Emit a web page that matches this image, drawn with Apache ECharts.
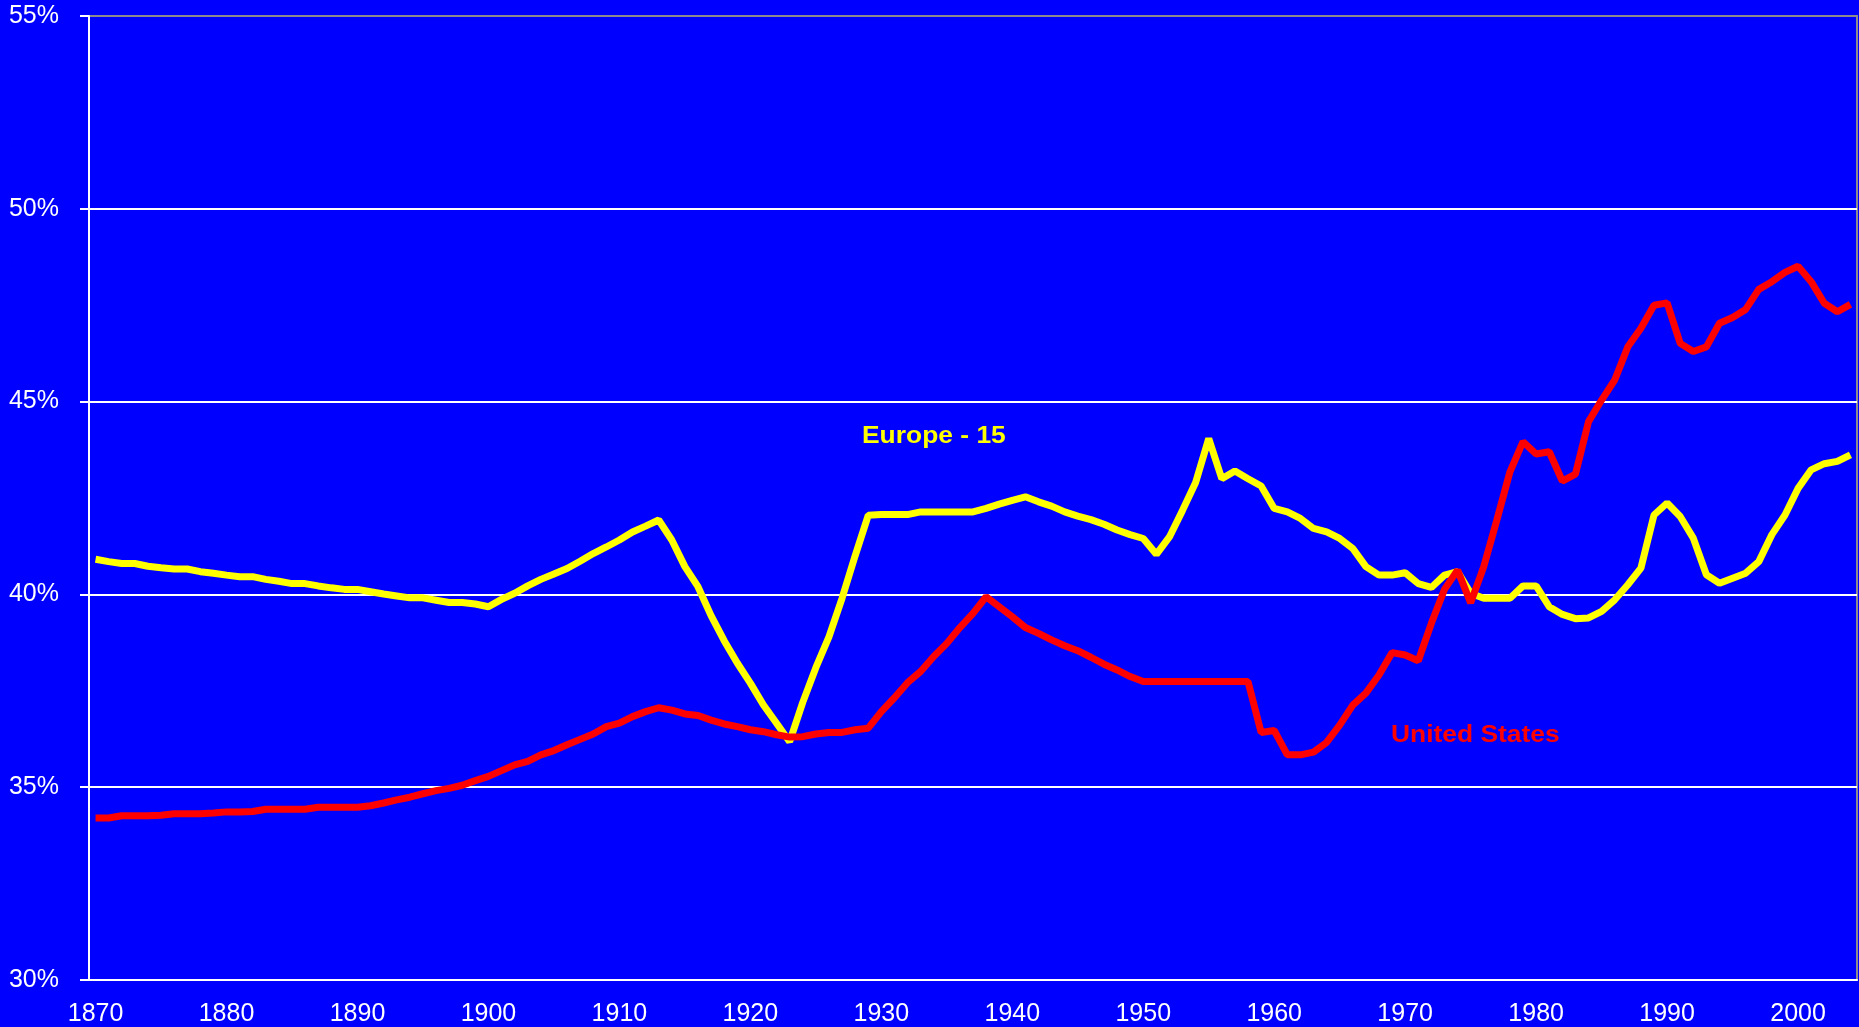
<!DOCTYPE html>
<html>
<head>
<meta charset="utf-8">
<title>Europe-15 vs United States</title>
<script src="https://cdn.jsdelivr.net/npm/echarts@6/dist/echarts.min.js"></script>
<style>
  html, body { margin: 0; padding: 0; background: #0000ff; }
  #chart { width: 1859px; height: 1027px; }
</style>
</head>
<body>
<div id="chart"></div>
<script>
const firstYear = 1870;
const lastYear = 2004;
const years = [];
for (let y = firstYear; y <= lastYear; y++) years.push(String(y));

// Europe - 15 (yellow), 1870..2004
const europe15 = [
  40.91, 40.85, 40.80, 40.80, 40.73, 40.69, 40.66, 40.66, 40.59, 40.55,
  40.50, 40.46, 40.46, 40.39, 40.34, 40.28, 40.28, 40.22, 40.17, 40.13,
  40.13, 40.07, 40.01, 39.96, 39.91, 39.91, 39.85, 39.79, 39.79, 39.75,
  39.68, 39.87, 40.03, 40.22, 40.39, 40.53, 40.67, 40.86, 41.06, 41.23,
  41.41, 41.62, 41.77, 41.93, 41.41, 40.72, 40.20, 39.45, 38.80, 38.22,
  37.70, 37.13, 36.66, 36.18, 37.20, 38.10, 38.90, 39.90, 41.00, 42.05,
  42.07, 42.07, 42.07, 42.14, 42.14, 42.14, 42.14, 42.14, 42.23, 42.34,
  42.44, 42.53, 42.40, 42.29, 42.14, 42.03, 41.94, 41.82, 41.67, 41.55,
  41.45, 41.04, 41.49, 42.18, 42.90, 44.04, 43.00, 43.20, 43.00, 42.81,
  42.23, 42.14, 41.97, 41.71, 41.62, 41.45, 41.19, 40.72, 40.50, 40.50,
  40.56, 40.28, 40.18, 40.50, 40.59, 40.03, 39.90, 39.90, 39.90, 40.22,
  40.22, 39.68, 39.48, 39.37, 39.39, 39.56, 39.86, 40.25, 40.68, 42.06,
  42.37, 42.02, 41.46, 40.51, 40.29, 40.42, 40.55, 40.85, 41.55, 42.06,
  42.75, 43.23, 43.39, 43.45, 43.62
];

// United States (red), 1870..2004
const unitedStates = [
  34.20, 34.20, 34.26, 34.26, 34.26, 34.27, 34.31, 34.31, 34.31, 34.33,
  34.36, 34.36, 34.37, 34.43, 34.43, 34.43, 34.43, 34.48, 34.48, 34.48,
  34.48, 34.52, 34.59, 34.67, 34.74, 34.83, 34.91, 34.97, 35.05, 35.17,
  35.28, 35.43, 35.58, 35.67, 35.84, 35.95, 36.10, 36.24, 36.38, 36.57,
  36.66, 36.83, 36.96, 37.06, 37.00, 36.90, 36.86, 36.74, 36.64, 36.57,
  36.49, 36.44, 36.36, 36.30, 36.31, 36.38, 36.42, 36.42, 36.49, 36.53,
  36.96, 37.32, 37.71, 38.00, 38.39, 38.73, 39.14, 39.51, 39.94, 39.68,
  39.42, 39.14, 38.99, 38.82, 38.67, 38.54, 38.37, 38.19, 38.04, 37.87,
  37.74, 37.74, 37.74, 37.74, 37.74, 37.74, 37.74, 37.74, 37.74, 36.42,
  36.47, 35.84, 35.84, 35.91, 36.16, 36.61, 37.13, 37.44, 37.91, 38.49,
  38.43, 38.28, 39.25, 40.13, 40.63, 39.78, 40.72, 41.93, 43.18, 43.96,
  43.64, 43.70, 42.94, 43.12, 44.48, 45.04, 45.56, 46.42, 46.90, 47.50,
  47.56, 46.51, 46.30, 46.42, 47.03, 47.18, 47.39, 47.91, 48.11, 48.35,
  48.51, 48.11, 47.55, 47.33, 47.52
];

const yMin = 30;
const yMax = 55;
const yStep = 5;

const chart = echarts.init(document.getElementById('chart'));

const axisFont = { color: '#ffffff', fontSize: 25, fontFamily: '"Liberation Sans", Arial, sans-serif' };

const option = {
  animation: false,
  backgroundColor: '#0000ff',
  grid: {
    left: 89, right: 2, top: 16, bottom: 47,
    show: true, borderColor: '#8c8c8c', borderWidth: 2, backgroundColor: 'transparent'
  },
  xAxis: {
    type: 'category',
    data: years,
    boundaryGap: true,
    axisLine: { lineStyle: { color: '#ffffff', width: 2 } },
    axisTick: { interval: 4, length: 6, lineStyle: { color: '#ffffff', width: 2 } },
    axisLabel: Object.assign({ interval: 9, margin: 22 }, axisFont),
    splitLine: { show: false }
  },
  yAxis: {
    type: 'value',
    min: yMin, max: yMax, interval: yStep,
    axisLine: { show: true, lineStyle: { color: '#ffffff', width: 2 } },
    axisTick: { show: true, length: 9, lineStyle: { color: '#ffffff', width: 2 } },
    axisLabel: Object.assign({ margin: 30, formatter: '{value}%' }, axisFont),
    splitLine: {
      show: true,
      lineStyle: { color: ['#ffffff', '#ffffff', '#ffffff', '#ffffff', '#ffffff', '#8c8c8c'], width: 2 }
    }
  },
  series: [
    {
      name: 'Europe - 15',
      type: 'line',
      data: europe15,
      showSymbol: false,
      lineStyle: { color: '#ffff00', width: 7 },
      itemStyle: { color: '#ffff00' }
    },
    {
      name: 'United States',
      type: 'line',
      data: unitedStates,
      showSymbol: false,
      lineStyle: { color: '#ff0000', width: 7 },
      itemStyle: { color: '#ff0000' }
    }
  ],
  graphic: [
    {
      type: 'text', x: 862, y: 436, scaleX: 1.1, z: 10,
      style: {
        text: 'Europe - 15', fill: '#ffff00',
        font: 'bold 24px "Liberation Sans", Arial, sans-serif',
        textAlign: 'left', textVerticalAlign: 'middle', align: 'left', verticalAlign: 'middle'
      }
    },
    {
      type: 'text', x: 1391, y: 735, scaleX: 1.1, z: 10,
      style: {
        text: 'United States', fill: '#ff0000',
        font: 'bold 24px "Liberation Sans", Arial, sans-serif',
        textAlign: 'left', textVerticalAlign: 'middle', align: 'left', verticalAlign: 'middle'
      }
    }
  ]
};

chart.setOption(option);
</script>
</body>
</html>
